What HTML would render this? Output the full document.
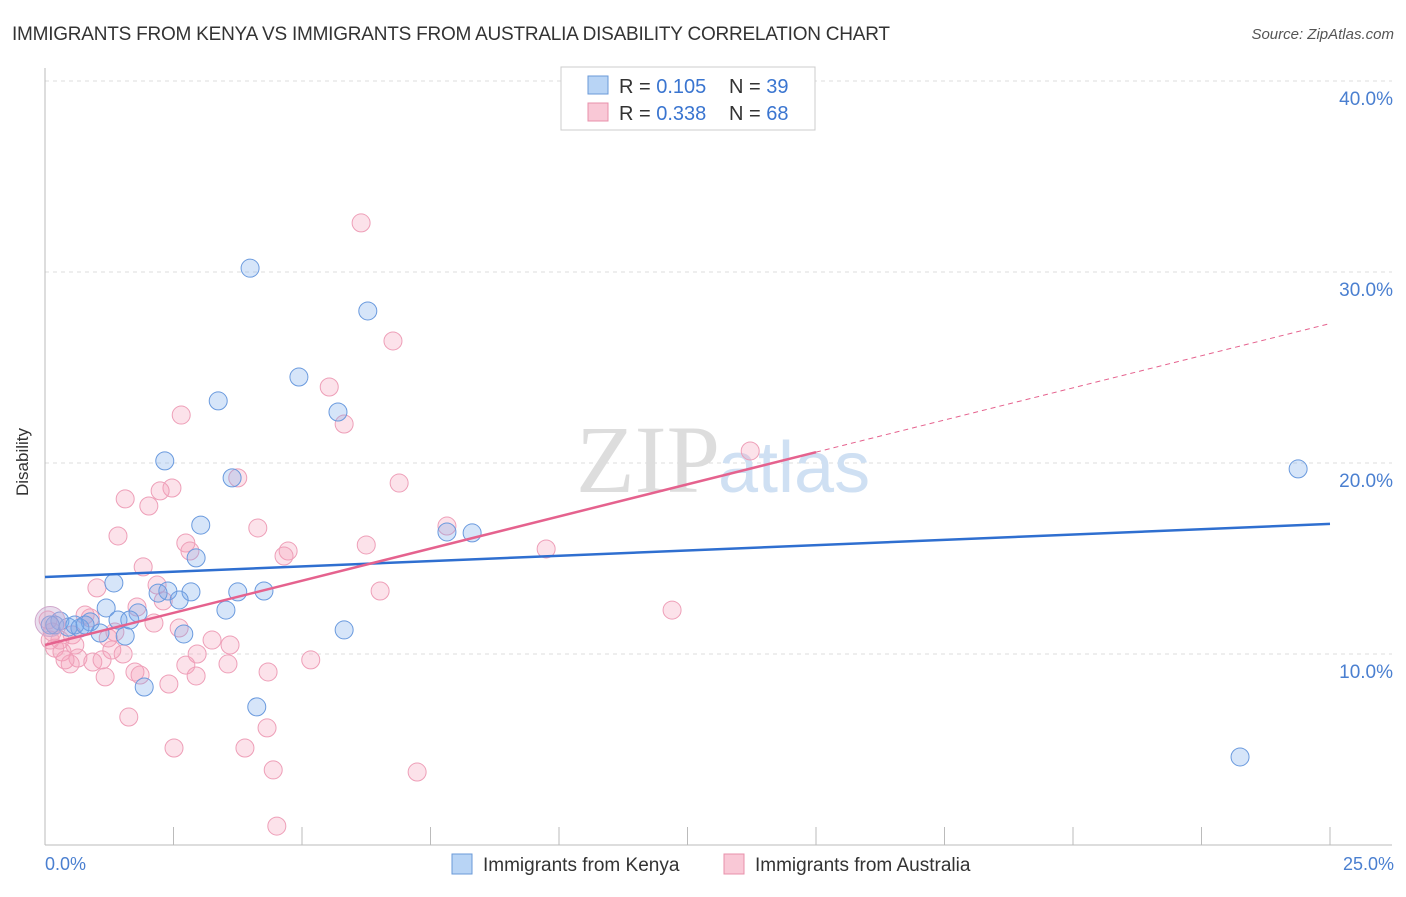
<!DOCTYPE html>
<html><head><meta charset="utf-8"><style>
body{margin:0;background:#fff;font-family:"Liberation Sans",sans-serif}
svg text{font-family:"Liberation Sans",sans-serif}
</style></head><body>
<svg id="c" width="1406" height="892" xmlns="http://www.w3.org/2000/svg">
<text x="12" y="40" font-size="19" fill="#333" textLength="878">IMMIGRANTS FROM KENYA VS IMMIGRANTS FROM AUSTRALIA DISABILITY CORRELATION CHART</text>
<text x="1394" y="39" font-size="15" fill="#555" text-anchor="end" font-style="italic">Source: ZipAtlas.com</text>
<g id="grid"></g>
<text x="720" y="492" font-size="96" fill="#ddd" text-anchor="end" style="font-family:'Liberation Serif',serif">ZIP</text>
<text x="718" y="492" font-size="72" fill="#cfe0f3">atlas</text>
<line x1="45" y1="68" x2="45" y2="845" stroke="#bbb"/>
<line x1="45" y1="845" x2="1392" y2="845" stroke="#bbb"/>
<g id="ticks"></g>
<g id="pts"></g>
<g id="trend"></g>
<text x="22" y="456" font-size="17" fill="#333" text-anchor="middle" transform="rotate(-90 28 456)">Disability</text>
<text x="45" y="870" font-size="18" fill="#4a7fd0">0.0%</text>
<text x="1394" y="870" font-size="18" fill="#4a7fd0" text-anchor="end">25.0%</text>
<g>
<rect x="561" y="67" width="254" height="63" fill="#fff" stroke="#ccc"/>
<rect x="588" y="76" width="20" height="18" fill="#b8d4f5" stroke="#6a9ad8"/>
<rect x="588" y="103" width="20" height="18" fill="#f9c8d6" stroke="#e890ab"/>
<text x="619" y="93" font-size="20" fill="#333">R = <tspan fill="#3a75d0">0.105</tspan></text>
<text x="729" y="93" font-size="20" fill="#333">N = <tspan fill="#3a75d0">39</tspan></text>
<text x="619" y="120" font-size="20" fill="#333">R = <tspan fill="#3a75d0">0.338</tspan></text>
<text x="729" y="120" font-size="20" fill="#333">N = <tspan fill="#3a75d0">68</tspan></text>
</g>
<g>
<rect x="452" y="854" width="20" height="20" fill="#b8d4f5" stroke="#6a9ad8"/>
<text x="483" y="871" font-size="19" fill="#333">Immigrants from Kenya</text>
<rect x="724" y="854" width="20" height="20" fill="#f9c8d6" stroke="#e890ab"/>
<text x="755" y="871" font-size="19" fill="#333">Immigrants from Australia</text>
</g>
</svg>
<script>
const yTicks=[10,20,30,40];
const yTickLabels=["10.0%","20.0%","30.0%","40.0%"];
const kenyaX=[3.99,6.28,4.94,3.37,5.70,2.33,3.64,3.03,2.94,7.82,8.31,1.34,2.39,2.84,3.75,4.26,2.61,2.20,1.19,1.81,3.52,1.42,0.88,0.29,0.19,0.45,0.68,1.07,1.56,2.70,5.82,1.93,4.12,24.38,23.25,0.10,0.58,0.78,1.65];
const kenyaY=[30.2,27.96,24.5,23.25,22.67,20.11,19.22,16.75,15.03,16.39,16.34,13.72,13.3,13.25,13.25,13.3,12.83,13.19,12.41,12.15,12.3,11.78,11.68,11.73,11.52,11.41,11.36,11.1,10.94,11.05,11.26,8.27,7.23,19.69,4.61,11.52,11.52,11.52,11.78];
const ausX=[6.15,6.77,5.53,5.82,2.65,13.72,3.75,6.89,1.56,2.02,2.47,2.24,1.42,7.82,4.14,6.25,9.75,2.74,2.82,4.73,4.65,1.91,2.18,1.01,6.52,1.79,2.30,12.2,0.88,2.12,2.61,1.36,0.53,3.25,3.60,0.10,0.19,0.33,1.23,1.30,1.52,2.96,0.64,0.49,0.93,1.11,0.39,5.17,2.74,3.56,1.75,1.85,1.17,4.34,2.94,2.41,1.63,4.32,2.51,3.89,4.44,7.24,4.51,0.06,0.14,0.78,0.29,0.58];
const ausY=[32.57,26.39,23.98,22.04,22.51,20.63,19.22,18.95,18.12,17.75,18.69,18.54,16.18,16.7,16.6,15.71,15.5,15.81,15.39,15.39,15.13,14.56,13.61,13.46,13.3,12.46,12.78,12.3,11.89,11.62,11.36,11.15,11.0,10.73,10.47,10.73,10.31,10.11,10.84,10.21,10.0,10.0,9.79,9.48,9.58,9.69,9.69,9.69,9.42,9.48,9.06,8.9,8.8,9.06,8.85,8.43,6.7,6.13,5.08,5.08,3.93,3.82,0.99,11.78,11.15,12.04,10.73,10.47];
const kenyaTrend=[14.03,16.81];
const ausTrend=[10.47,27.3];
const ausSolidEnd=15;
const NS="http://www.w3.org/2000/svg";
const sx=v=>45+v/25*1285, sy=v=>845-v*19.1;
function mk(t,a,p){const e=document.createElementNS(NS,t);for(const k in a)e.setAttribute(k,a[k]);p.appendChild(e);return e;}
const grid=document.getElementById('grid');
yTicks.forEach((t,i)=>{
 const l=mk('line',{x1:45,x2:1392,y1:sy(t),y2:sy(t),stroke:'#ddd','stroke-dasharray':'4,4'},grid);
 
 
 const tx=mk('text',{x:1393,y:sy(t)+24,'font-size':19,fill:'#4a7fd0','text-anchor':'end'},grid);
 tx.textContent=yTickLabels[i];
 
 
});
const ticks=document.getElementById('ticks');
for(let i=0;i<=10;i++){const v=i*2.5;
 const l=mk('line',{x1:sx(v),x2:sx(v),y1:827,y2:845,stroke:'#bbb'},ticks);
 
 }
const pts=document.getElementById('pts');
function series(X,Y,fill,stroke,name){X.forEach((x,i)=>{
 const c=mk('circle',{cx:sx(x),cy:sy(Y[i]),r:9,fill:fill,stroke:stroke,'stroke-width':1},pts);
 
 });}
series(ausX,ausY,'rgba(245,160,185,0.3)','#ee9fb8','australia-point');
series(kenyaX,kenyaY,'rgba(120,170,235,0.3)','#6a9ade','kenya-point');
const big1=mk('circle',{cx:sx(0.1),cy:sy(11.7),r:15,fill:'rgba(200,170,210,0.4)',stroke:'#d0a8cc'},pts);


const tr=document.getElementById('trend');
const kl=mk('line',{x1:sx(0),y1:sy(kenyaTrend[0]),x2:sx(25),y2:sy(kenyaTrend[1]),stroke:'#2f6fd0','stroke-width':2.5},tr);


const slope=(ausTrend[1]-ausTrend[0])/25;
const al=mk('line',{x1:sx(0),y1:sy(ausTrend[0]),x2:sx(ausSolidEnd),y2:sy(ausTrend[0]+slope*ausSolidEnd),stroke:'#e5628e','stroke-width':2.5},tr);


const ad=mk('line',{x1:sx(ausSolidEnd),y1:sy(ausTrend[0]+slope*ausSolidEnd),x2:sx(25),y2:sy(ausTrend[1]),stroke:'#e5628e','stroke-width':1,'stroke-dasharray':'5,4'},tr);


</script>
</body></html>
